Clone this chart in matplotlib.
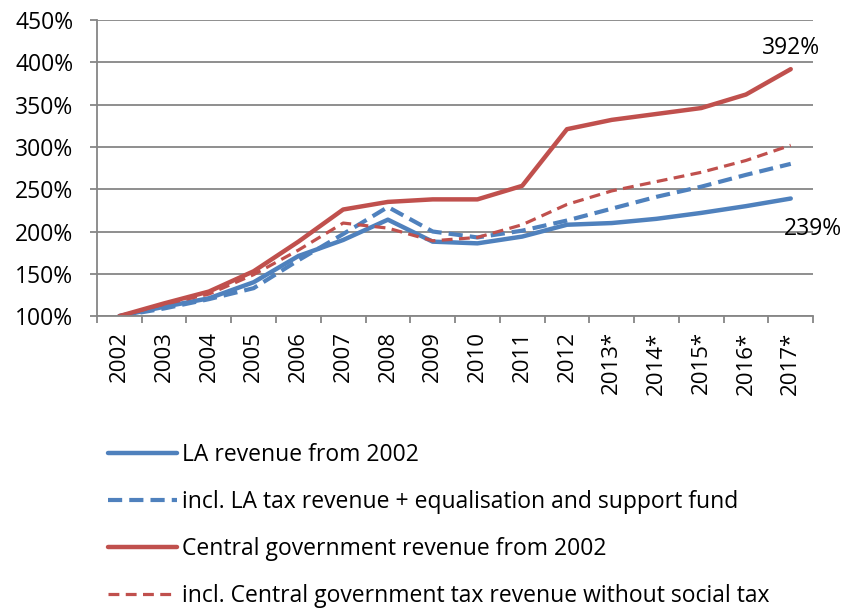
import matplotlib
matplotlib.use("Agg")
import matplotlib.pyplot as plt
from matplotlib.ticker import FuncFormatter

plt.rcParams['font.family'] = ['Open Sans', 'DejaVu Sans']

years = ["2002", "2003", "2004", "2005", "2006", "2007", "2008", "2009",
         "2010", "2011", "2012", "2013*", "2014*", "2015*", "2016*", "2017*"]

la_revenue = [100, 111, 121, 140, 171, 190, 214, 188, 186, 194, 208, 210, 215, 222, 230, 239]
la_tax_incl = [100, 109, 120, 133, 166, 197, 229, 200, 193, 201, 213, 227, 241, 253, 267, 280]
cg_revenue = [100, 115, 129, 153, 188, 226, 235, 238, 238, 254, 321, 332, 339, 346, 362, 392]
cg_tax_incl = [100, 114, 126, 149, 178, 210, 204, 189, 193, 208, 232, 248, 259, 270, 284, 302]

labels = ["LA revenue from 2002",
          "incl. LA tax revenue + equalisation and support fund",
          "Central government revenue from 2002",
          "incl. Central government tax revenue without social tax"]

blue = "#4F81BD"
red = "#C0504D"
grey = "#868686"

fig = plt.figure(figsize=(8.47, 6.09), dpi=100)
ax = fig.add_axes([0.1145, 0.481, 0.8455, 0.486])

x = list(range(len(years)))
h1, = ax.plot(x, la_revenue, color=blue, lw=3.2, solid_capstyle="round", label=labels[0])
h2, = ax.plot(x, la_tax_incl, color=blue, lw=3.0, dashes=(3.4, 1.7), label=labels[1])
h3, = ax.plot(x, cg_revenue, color=red, lw=3.2, solid_capstyle="round", label=labels[2])
h4, = ax.plot(x, cg_tax_incl, color=red, lw=2.3, dashes=(3.4, 2.0), label=labels[3])

ax.set_xlim(-0.5, len(years) - 0.5)
ax.set_ylim(100, 450)
ax.set_yticks(range(100, 451, 50))
ax.yaxis.set_major_formatter(FuncFormatter(lambda v, p: "%d%%" % v))
ax.set_xticks(x)
ax.set_xticklabels(years, rotation=90)
ax.set_xticks([i - 0.5 for i in range(len(years) + 1)], minor=True)

ax.grid(axis="y", color=grey, lw=1.3)
ax.set_axisbelow(True)
for s in ["top", "right"]:
    ax.spines[s].set_visible(False)
for s in ["left", "bottom"]:
    ax.spines[s].set_color(grey)
    ax.spines[s].set_linewidth(1.3)

ax.tick_params(axis="y", length=5, width=1.3, color=grey, labelsize=16.5, pad=12)
ax.tick_params(axis="x", which="major", length=0, labelsize=16, pad=11)
ax.tick_params(axis="x", which="minor", length=5, width=1.3, color=grey)

ax.annotate("%d%%" % cg_revenue[-1], (x[-1], cg_revenue[-1]), xytext=(0, 15),
            textcoords="offset points", ha="center", va="center", fontsize=16.5)
ax.annotate("%d%%" % la_revenue[-1], (x[-1], la_revenue[-1]), xytext=(16, -22),
            textcoords="offset points", ha="center", va="center", fontsize=16.5)

fig.legend(handles=[h1, h2, h3, h4], loc="upper left", bbox_to_anchor=(0.117, 0.288),
           frameon=False, fontsize=16.5, handlelength=3.0, handletextpad=0.2,
           labelspacing=1.0, borderaxespad=0)

fig.savefig("out.png", dpi=100)
